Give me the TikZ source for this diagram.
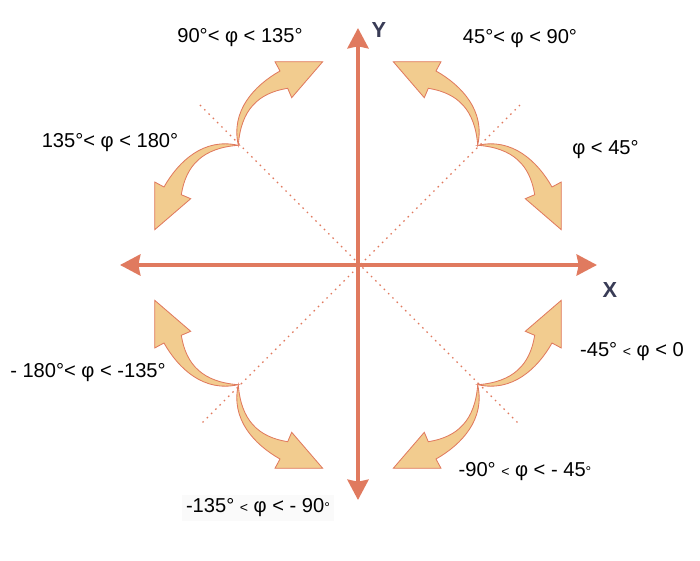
\documentclass[tikz,border=0pt]{standalone}
\usepackage{fontspec}
\setmainfont{Liberation Sans}
\usetikzlibrary{arrows.meta}
\definecolor{axisred}{HTML}{E07A5F}
\definecolor{bendfill}{HTML}{F2CC8F}
\definecolor{axisname}{HTML}{393C56}
% one curved block arrow, upper right quadrant, in pixel units around the origin
\newcommand{\bentpath}{(35.3,203.3) -- (83,203.3) -- (78,194)
  .. controls (104,179.3) and (127.4,154) .. (119.7,120)
  .. controls (117,155) and (100,172) .. (70.3,176.7) -- (66.3,167.3) -- cycle}
\newcommand{\slt}{{\fontsize{10}{10}\selectfont <}}
\newcommand{\sdeg}{{\fontsize{10}{10}\selectfont °}}

\begin{document}
\begin{tikzpicture}[x=0.025cm, y=0.025cm,
  axis/.style={axisred, line width=2.6pt, {Stealth[length=14.5pt, width=15pt, inset=1.5pt]}-{Stealth[length=14.5pt, width=15pt, inset=1.5pt]}},
  diag/.style={axisred, line width=1pt, dash pattern=on 1.1pt off 3.2pt},
  bent/.style={fill=bendfill, draw=axisred, line width=0.6pt, line join=miter},
  lbl/.style={font=\fontsize{14.3}{17}\selectfont, inner sep=1pt},
  axlbl/.style={font=\fontsize{15.5}{18}\selectfont\bfseries, text=axisname}]
\useasboundingbox (-358,-296) rectangle (342,265);

% dotted diagonals
\coordinate (nw) at (-158,160);
\coordinate (se) at (162,-160);
\coordinate (ne) at (162,160);
\coordinate (sw) at (-158,-160);
\draw[diag] (nw) -- (se);
\draw[diag] (ne) -- (sw);

% curved arrows, one pair per quadrant
\draw[bent] \bentpath;
\draw[bent, cm={0,1,1,0,(0,0)}] \bentpath;
\draw[bent, rotate=90] \bentpath;
\draw[bent, rotate=90, cm={0,1,1,0,(0,0)}] \bentpath;
\draw[bent, rotate=180] \bentpath;
\draw[bent, rotate=180, cm={0,1,1,0,(0,0)}] \bentpath;
\draw[bent, rotate=270] \bentpath;
\draw[bent, rotate=270, cm={0,1,1,0,(0,0)}] \bentpath;

% axes
\coordinate (xneg) at (-238,0);
\coordinate (xpos) at (239,0);
\coordinate (yneg) at (0,-235);
\coordinate (ypos) at (0,237);
\draw[axis] (xneg) -- (xpos);
\draw[axis] (yneg) -- (ypos);
\node[axlbl] (ylabel) at (21,235) {Y};
\node[axlbl] (xlabel) at (252,-25) {X};

% angle ranges
\node[lbl] (q90) at (-118,227) {90°< φ < 135°};
\node[lbl] (q45) at (162,226) {45°< φ < 90°};
\node[lbl] (q0) at (247.5,115) {φ < 45°};
\node[lbl] (q135) at (-248,122) {135°< φ < 180°};
\node[lbl] (qm180) at (-270,-108) {- 180°< φ < -135°};
\node[lbl] (qm45) at (274,-87) {-45° \slt{} φ < 0};
\node[lbl] (qm90) at (167,-207) {-90° \slt{} φ < - 45\sdeg};
\node[lbl, fill=black!2, inner sep=3pt] (qm135) at (-100,-243) {-135° \slt{} φ < - 90\sdeg};
\end{tikzpicture}
\end{document}
